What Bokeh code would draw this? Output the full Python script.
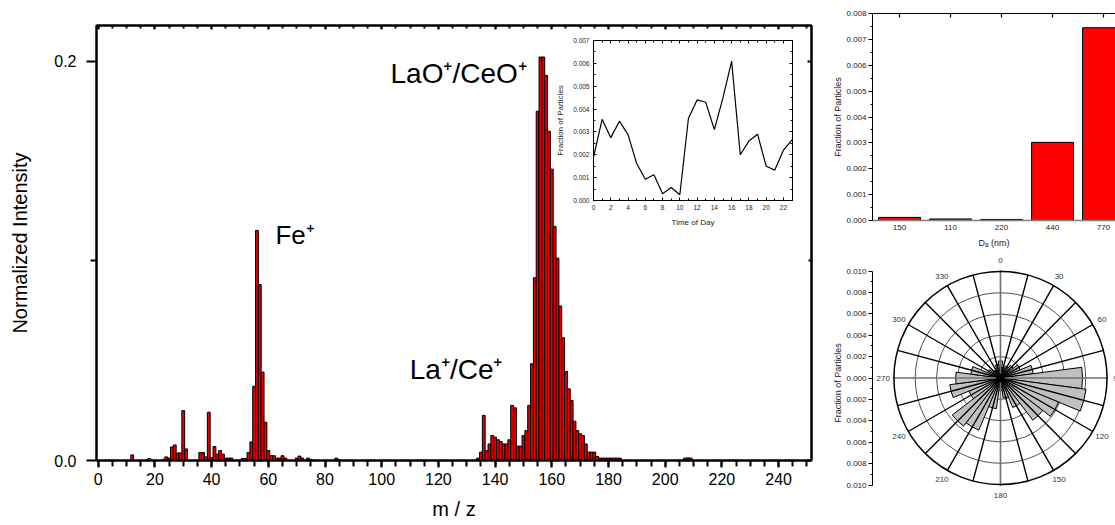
import math
from bokeh.plotting import figure
from bokeh.layouts import row, column
from bokeh.models import (LinearAxis, SingleIntervalTicker, FixedTicker,
                          PrintfTickFormatter, CustomJSTickFormatter, GridBox,
                          CustomLabelingPolicy)
from bokeh.core.properties import value
from bokeh.embed import file_html
from bokeh.resources import INLINE

FONT = "Liberation Sans"

# ---------------- data ----------------
mz = [12, 18, 23, 24, 25, 26, 27, 28, 29, 30, 31, 36, 37, 38, 39, 40, 41, 42, 43, 44,
      45, 46, 47, 51, 52, 53, 54, 55, 56, 57, 58, 59, 60, 61, 62, 63, 64, 65, 66, 70,
      71, 72, 74, 75, 84, 85,
      134, 135, 136, 137, 138, 139, 140, 141, 142, 143, 144, 145, 146, 147, 148, 149,
      150, 151, 152, 153, 154, 155, 156, 157, 158, 159, 160, 161, 162, 163, 164, 165,
      166, 167, 168, 169, 170, 171, 172, 173, 174, 175, 176, 177, 178, 179, 180, 181,
      182, 183, 184, 207, 208, 209]
intensity = [0.0028, 0.0010, 0.0006, 0.0018, 0.0012, 0.0068, 0.0078, 0.0038, 0.0038, 0.0250,
             0.0058, 0.0040, 0.0040, 0.0018, 0.0242, 0.0015, 0.0070, 0.0032, 0.0050, 0.0032,
             0.0012, 0.0012, 0.0012, 0.0010, 0.0010, 0.0040, 0.0093, 0.0372, 0.1153, 0.0882,
             0.0443, 0.0192, 0.0050, 0.0024, 0.0024, 0.0012, 0.0012, 0.0024, 0.0012, 0.0012,
             0.0022, 0.0012, 0.0012, 0.0006, 0.0012, 0.0005,
             0.0012, 0.0042, 0.0226, 0.0050, 0.0083, 0.0125, 0.0117, 0.0104, 0.0095, 0.0083,
             0.0083, 0.0104, 0.0276, 0.0264, 0.0072, 0.0072, 0.0125, 0.0150, 0.0276, 0.0485,
             0.0916, 0.1750, 0.2022, 0.2022, 0.1930, 0.1650, 0.1460, 0.1173, 0.1014, 0.0774,
             0.0615, 0.0446, 0.0359, 0.0301, 0.0197, 0.0150, 0.0134, 0.0125, 0.0083, 0.0042,
             0.0042, 0.0042, 0.0020, 0.0012, 0.0012, 0.0012, 0.0012, 0.0012, 0.0012, 0.0012,
             0.0012, 0.0012, 0.0013, 0.0012]
ion_labels = ["Fe\u207a", "LaO\u207a/CeO\u207a", "La\u207a/Ce\u207a"]

hours = list(range(24))
hour_fraction = [0.0019, 0.00355, 0.00275, 0.00347, 0.00288, 0.00162, 0.00093, 0.00113,
                 0.00030, 0.00057, 0.00025, 0.0036, 0.0044, 0.0043, 0.0031, 0.0045,
                 0.0061, 0.0020, 0.0026, 0.0029, 0.0015, 0.00133, 0.0022, 0.00265]

size_bins = ["150", "110", "220", "440", "770"]
size_fraction = [0.00012, 0.00006, 0.00004, 0.00302, 0.00745]

wind_dir = [0, 15, 30, 45, 60, 75, 90, 105, 120, 135, 150, 165,
            180, 195, 210, 225, 240, 255, 270, 285, 300, 315, 330, 345]
wind_fraction = [0.0016, 0.0010, 0.0012, 0.0015, 0.0020, 0.0031, 0.0077, 0.0081,
                 0.0059, 0.0050, 0.0030, 0.0019, 0.0012, 0.0029, 0.0053, 0.0057,
                 0.0032, 0.0048, 0.0042, 0.0028, 0.0013, 0.0009, 0.0008, 0.0013]
wind_bin_width = 15
angle_labels = [0, 30, 60, 90, 120, 150, 180, 210, 240, 270, 300, 330]
ring_radii = [0.002, 0.004, 0.006, 0.008]
outer_radius = 0.010

NO_LABELS = "return new Set()"


def hidden_axis(ticker, tick_in, minor_in=0, width=1):
    return LinearAxis(ticker=ticker, major_tick_in=tick_in, major_tick_out=0,
                      minor_tick_in=minor_in, minor_tick_out=0,
                      axis_line_width=width, major_tick_line_width=width,
                      minor_tick_line_width=width,
                      major_label_policy=CustomLabelingPolicy(code=NO_LABELS),
                      major_label_text_font_size="1px", major_label_standoff=0)


# ---------------- main spectrum ----------------
main = figure(width=820, height=525, x_range=(-0.6, 251.6), y_range=(0, 0.218),
              output_backend="svg", toolbar_location=None,
              min_border_left=96, min_border_right=9, min_border_top=25, min_border_bottom=65,
              background_fill_color="white", border_fill_color="white")
main.grid.visible = False
main.outline_line_color = "black"
main.outline_line_width = 2

main.vbar(x=mz, top=intensity, width=1, bottom=0,
          fill_color="#e00000", line_color="black", line_width=1)

xa = main.xaxis[0]
xa.ticker = SingleIntervalTicker(interval=20, num_minor_ticks=4)
xa.axis_label = "m / z"
ya = main.yaxis[0]
ya.ticker = FixedTicker(ticks=[0, 0.2], minor_ticks=[0.1])
ya.formatter = PrintfTickFormatter(format="%.1f")
ya.axis_label = "Normalized Intensity"
for ax in (xa, ya):
    ax.axis_line_width = 2
    ax.major_tick_line_width = 2
    ax.minor_tick_line_width = 2
    ax.major_tick_in = 0
    ax.minor_tick_in = 0
    ax.major_label_text_font = FONT
    ax.major_label_text_font_size = "16px"
    ax.major_label_text_color = "black"
    ax.axis_label_text_font = FONT
    ax.axis_label_text_font_size = "20px"
    ax.axis_label_text_font_style = "normal"
    ax.axis_label_text_color = "black"
xa.major_tick_out = 7
xa.minor_tick_out = 6
xa.major_label_standoff = 5
xa.axis_label_standoff = 10
ya.major_tick_out = 10
ya.minor_tick_out = 6
ya.major_label_standoff = 10
ya.axis_label_standoff = 20

main.add_layout(hidden_axis(SingleIntervalTicker(interval=20, num_minor_ticks=4), 4, 3, 2), "above")
main.add_layout(hidden_axis(FixedTicker(ticks=[0, 0.2], minor_ticks=[0.1]), 4, 3, 2), "right")

label_x = [62.5, 103.1, 109.9]
label_y = [0.113, 0.1938, 0.0455]
label_size = ["26px", "28px", "28px"]
main.text(x=label_x, y=label_y, text=ion_labels, text_font=value(FONT),
          text_font_size=label_size, text_color="black",
          text_align="left", text_baseline="alphabetic")

# ---------------- inset: time of day ----------------
inset = figure(width=250, height=202, x_range=(0, 23.05), y_range=(0, 0.007),
               output_backend="svg", toolbar_location=None,
               min_border_left=41, min_border_right=10, min_border_top=10, min_border_bottom=32,
               background_fill_color="white", border_fill_color=None)
inset.grid.visible = False
inset.outline_line_color = "black"
inset.outline_line_width = 1
inset.line(x=hours, y=hour_fraction, line_color="black", line_width=1.2)

ix = inset.xaxis[0]
ix.ticker = SingleIntervalTicker(interval=2, num_minor_ticks=2)
ix.axis_label = "Time of Day"
iy = inset.yaxis[0]
iy.ticker = SingleIntervalTicker(interval=0.001, num_minor_ticks=2)
iy.formatter = PrintfTickFormatter(format="%.3f")
iy.axis_label = "Fraction of Particles"
for ax in (ix, iy):
    ax.major_tick_in = 3
    ax.major_tick_out = 0
    ax.minor_tick_in = 2
    ax.minor_tick_out = 0
    ax.major_label_text_font = FONT
    ax.major_label_text_font_size = "6.5px"
    ax.major_label_text_color = "#222222"
    ax.major_label_standoff = 4
    ax.axis_label_text_font = FONT
    ax.axis_label_text_font_size = "8px"
    ax.axis_label_text_font_style = "normal"
    ax.axis_label_text_color = "#222222"
ix.axis_label_standoff = 5
iy.axis_label_standoff = 5
inset.add_layout(hidden_axis(SingleIntervalTicker(interval=2, num_minor_ticks=2), 3, 2), "above")
inset.add_layout(hidden_axis(SingleIntervalTicker(interval=0.001, num_minor_ticks=2), 3, 2), "right")

# ---------------- size distribution bars ----------------
bar = figure(width=295, height=250, x_range=(-0.03, 4.735), y_range=(0, 0.008),
             output_backend="svg", toolbar_location=None,
             min_border_left=52, min_border_right=0, min_border_top=13, min_border_bottom=30,
             background_fill_color="white", border_fill_color="white")
bar.grid.visible = False
bar.outline_line_color = None
bar_x = [i + 0.5 for i in range(len(size_bins))]
bar.vbar(x=bar_x, top=size_fraction, width=0.82, bottom=0,
         fill_color="#ff0000", line_color="black", line_width=1)

bx = bar.xaxis[0]
bx.ticker = FixedTicker(ticks=bar_x)
bx.formatter = CustomJSTickFormatter(args=dict(labels=size_bins),
                                     code="return labels[Math.floor(tick)];")
bx.major_tick_in = 0
bx.major_tick_out = 0
bx.minor_tick_in = 0
bx.minor_tick_out = 0
bx.axis_line_color = "#808080"
bx.axis_line_width = 1.5
bx.axis_label = "D\u2090 (nm)"
bx.major_label_standoff = 4
bx.axis_label_standoff = 5
by = bar.yaxis[0]
by.ticker = SingleIntervalTicker(interval=0.001, num_minor_ticks=2)
by.formatter = PrintfTickFormatter(format="%.3f")
by.major_tick_out = 4
by.major_tick_in = 0
by.minor_tick_out = 2
by.minor_tick_in = 0
by.major_label_standoff = 2
by.axis_label = "Fraction of Particles"
by.axis_label_standoff = 0
for ax in (bx, by):
    ax.major_label_text_font = FONT
    ax.major_label_text_font_size = "8px"
    ax.major_label_text_color = "#222222"
    ax.axis_label_text_font = FONT
    ax.axis_label_text_font_size = "9px"
    ax.axis_label_text_font_style = "normal"
    ax.axis_label_text_color = "#222222"
bar.add_layout(hidden_axis(FixedTicker(ticks=bar_x), 4, 0, 1.2), "above")

# ---------------- wind rose ----------------
polar = figure(width=295, height=275, x_range=(-0.012009, 0.010794), y_range=(-0.012383, 0.011449),
               output_backend="svg", toolbar_location=None, x_axis_location=None,
               min_border_left=51, min_border_right=0, min_border_top=5, min_border_bottom=15,
               background_fill_color="white", border_fill_color="white")
polar.grid.visible = False
polar.outline_line_color = None

half = wind_bin_width / 2.0
starts = [math.radians(90 - (d + half)) for d in wind_dir]
ends = [math.radians(90 - (d - half)) for d in wind_dir]

polar.circle(x=[0] * len(ring_radii), y=[0] * len(ring_radii), radius=ring_radii,
             fill_color=None, line_color="#505050", line_width=1)
polar.wedge(x=0, y=0, radius=wind_fraction, start_angle=starts, end_angle=ends,
            fill_color="#c0c0c0", line_color="black", line_width=1)

spoke_deg = [d for d in wind_dir if d % 90 != 0]
polar.segment(x0=0, y0=0,
              x1=[outer_radius * math.sin(math.radians(d)) for d in spoke_deg],
              y1=[outer_radius * math.cos(math.radians(d)) for d in spoke_deg],
              line_color="black", line_width=1.4)
axis_deg = [0, 90, 180, 270]
polar.segment(x0=0, y0=0,
              x1=[outer_radius * 1.01 * math.sin(math.radians(d)) for d in axis_deg],
              y1=[outer_radius * 1.01 * math.cos(math.radians(d)) for d in axis_deg],
              line_color="#707070", line_width=1.6)
polar.circle(x=[0], y=[0], radius=[outer_radius], fill_color=None,
             line_color="black", line_width=1.5)
polar.scatter(x=[0], y=[0], size=8, marker="circle", fill_color="black", line_color="black")

lab_r = 0.011
polar.text(x=[lab_r * math.sin(math.radians(a)) for a in angle_labels],
           y=[lab_r * math.cos(math.radians(a)) for a in angle_labels],
           text=[str(a) for a in angle_labels], text_font=value(FONT),
           text_font_size=value("8px"), text_color="#333333",
           text_align="center", text_baseline="middle")

py = polar.yaxis[0]
py.bounds = (-0.010, 0.010)
py.ticker = FixedTicker(ticks=[-0.010, -0.008, -0.006, -0.004, -0.002, 0.0,
                               0.002, 0.004, 0.006, 0.008, 0.010],
                        minor_ticks=[-0.009, -0.007, -0.005, -0.003, -0.001,
                                     0.001, 0.003, 0.005, 0.007, 0.009])
py.formatter = CustomJSTickFormatter(code="return Math.abs(tick).toFixed(3);")
py.major_tick_out = 4
py.major_tick_in = 0
py.minor_tick_out = 2
py.minor_tick_in = 0
py.major_label_standoff = 2
py.axis_label = "Fraction of Particles"
py.axis_label_standoff = 0
py.major_label_text_font = FONT
py.major_label_text_font_size = "8px"
py.major_label_text_color = "#222222"
py.axis_label_text_font = FONT
py.axis_label_text_font_size = "9px"
py.axis_label_text_font_style = "normal"
py.axis_label_text_color = "#222222"

# ---------------- layout ----------------
left = GridBox(children=[(main, 0, 0, 3, 3), (inset, 1, 1, 1, 1)],
               rows=["30px", "202px", "293px"],
               cols=["552px", "250px", "18px"], spacing=0)
right = column(bar, polar, spacing=0)
layout = row(left, right, spacing=0)

open("out.html", "w").write(file_html(layout, INLINE))
